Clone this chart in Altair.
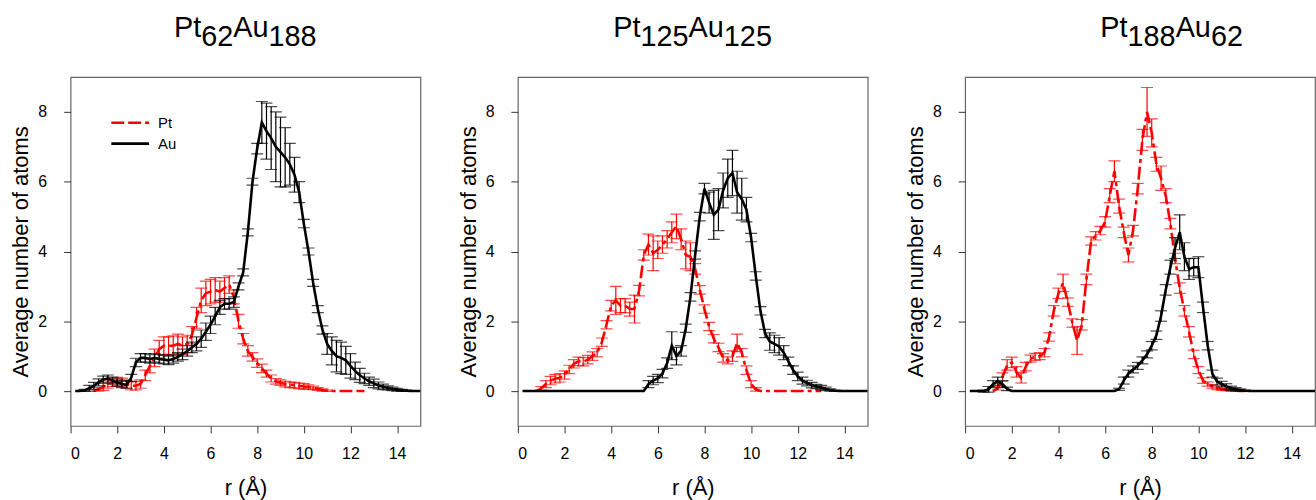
import altair as alt
import pandas as pd

# radial bins (Å)
R = [round(0.2 * k, 1) for k in range(1, 76)]
N = None

# ---------------- Pt62Au188 ----------------
P1_AU = [0, 0, 0.02, 0.08, 0.15, 0.25, 0.33, 0.36, 0.30, 0.24,
         0.20, 0.18, 0.38, 0.82, 0.95, 0.95, 0.92, 0.95, 0.92, 0.90,
         0.88, 0.92, 0.98, 1.05, 1.15, 1.25, 1.35, 1.50, 1.70, 1.90,
         2.15, 2.40, 2.50, 2.50, 2.55, 3.00, 3.40, 4.55, 6.00, 6.95,
         7.70, 7.45, 7.25, 7.00, 6.85, 6.70, 6.50, 6.20, 5.70, 4.80,
         4.00, 3.10, 2.35, 1.75, 1.35, 1.15, 1.00, 0.95, 0.88, 0.72,
         0.58, 0.45, 0.36, 0.28, 0.22, 0.16, 0.12, 0.09, 0.06, 0.04,
         0.02, 0.01, 0, 0, 0]
P1_AU_ERR = [0, 0, 0.03, 0.08, 0.1, 0.1, 0.1, 0.1, 0.1, 0.1,
             0.1, 0.1, 0.1, 0.12, 0.12, 0.12, 0.12, 0.12, 0.12, 0.12,
             0.12, 0.12, 0.12, 0.15, 0.15, 0.15, 0.2, 0.25, 0.25, 0.25,
             0.25, 0.2, 0.15, 0.15, 0.15, 0.1, 0.1, 0.1, 0.1, 0.15,
             0.6, 0.8, 0.9, 1.0, 1.0, 0.85, 0.6, 0.5, 0.3, 0.12,
             0.1, 0.1, 0.1, 0.12, 0.3, 0.4, 0.45, 0.45, 0.4, 0.35,
             0.25, 0.2, 0.15, 0.12, 0.12, 0.1, 0.08, 0.06, 0.05, 0.04,
             0.03, 0.02, 0, 0, 0]
P1_PT = [N, N, N, N, 0.0, 0.05, 0.12, 0.20, 0.25, 0.27,
         0.25, 0.20, 0.15, 0.15, 0.20, 0.45, 0.72, 0.95, 1.20, 1.30,
         1.30, 1.30, 1.35, 1.30, 1.35, 1.60, 2.10, 2.60, 2.80, 2.85,
         2.90, 2.85, 2.95, 3.05, 2.70, 2.00, 1.50, 1.15, 0.98, 0.80,
         0.65, 0.50, 0.36, 0.28, 0.24, 0.20, 0.18, 0.17, 0.15, 0.13,
         0.12, 0.09, 0.06, 0.03, 0.01, 0, 0, 0, 0, 0,
         0, 0, 0, N, N, N, N, N, N, N,
         N, N, N, N, N]
P1_PT_ERR = [N, N, N, N, 0, 0.05, 0.1, 0.12, 0.12, 0.12,
             0.12, 0.12, 0.12, 0.12, 0.12, 0.15, 0.2, 0.25, 0.25, 0.25,
             0.25, 0.28, 0.28, 0.25, 0.25, 0.25, 0.3, 0.35, 0.35, 0.35,
             0.35, 0.3, 0.3, 0.25, 0.2, 0.2, 0.15, 0.15, 0.12, 0.12,
             0.12, 0.1, 0.1, 0.08, 0.08, 0.08, 0.08, 0.08, 0.08, 0.08,
             0.06, 0.05, 0.04, 0.03, 0.02, 0, 0, 0, 0, 0,
             0, 0, 0, N, N, N, N, N, N, N,
             N, N, N, N, N]

# ---------------- Pt125Au125 ----------------
P2_AU = [0, 0, 0, 0, 0, 0, 0, 0, 0, 0,
         0, 0, 0, 0, 0, 0, 0, 0, 0, 0,
         0, 0, 0, 0, 0, 0, 0, 0.20, 0.30, 0.36,
         0.50, 0.80, 1.30, 1.00, 1.15, 1.80, 2.70, 3.90, 5.00, 5.80,
         5.40, 5.05, 5.20, 5.75, 6.10, 6.25, 5.70, 5.50, 5.20, 4.40,
         3.30, 2.30, 1.65, 1.42, 1.35, 1.28, 1.10, 0.85, 0.60, 0.42,
         0.30, 0.23, 0.17, 0.13, 0.10, 0.06, 0.03, 0.01, 0, 0,
         0, 0, 0, 0, 0]
P2_AU_ERR = [0, 0, 0, 0, 0, 0, 0, 0, 0, 0,
             0, 0, 0, 0, 0, 0, 0, 0, 0, 0,
             0, 0, 0, 0, 0, 0, 0, 0.1, 0.12, 0.12,
             0.12, 0.15, 0.4, 0.25, 0.15, 0.12, 0.12, 0.12, 0.12, 0.15,
             0.3, 0.7, 0.6, 0.5, 0.55, 0.65, 0.6, 0.6, 0.35, 0.12,
             0.12, 0.12, 0.12, 0.25, 0.25, 0.25, 0.2, 0.12, 0.12, 0.12,
             0.1, 0.08, 0.08, 0.06, 0.06, 0.05, 0.03, 0.02, 0, 0,
             0, 0, 0, 0, 0]
P2_PT = [N, N, N, 0.0, 0.08, 0.20, 0.30, 0.35, 0.38, 0.46,
         0.62, 0.78, 0.85, 0.84, 0.90, 1.00, 1.10, 1.40, 1.90, 2.45,
         2.60, 2.45, 2.45, 2.35, 2.35, 2.88, 3.90, 4.20, 3.95, 4.05,
         4.20, 4.35, 4.55, 4.72, 4.35, 3.90, 3.85, 3.50, 2.90, 2.35,
         1.85, 1.50, 1.25, 0.95, 0.88, 1.00, 1.38, 1.10, 0.60, 0.20,
         0.05, 0, 0, 0, 0, 0, 0, 0, 0, 0,
         0, 0, 0, 0, 0, N, N, N, N, N,
         N, N, N, N, N]
P2_PT_ERR = [N, N, N, 0, 0.05, 0.1, 0.12, 0.12, 0.12, 0.12,
             0.12, 0.12, 0.12, 0.12, 0.12, 0.12, 0.12, 0.12, 0.12, 0.15,
             0.4, 0.2, 0.2, 0.2, 0.4, 0.15, 0.15, 0.3, 0.5, 0.25,
             0.25, 0.25, 0.3, 0.35, 0.3, 0.4, 0.4, 0.15, 0.12, 0.12,
             0.12, 0.12, 0.12, 0.12, 0.1, 0.15, 0.25, 0.12, 0.12, 0.1,
             0.05, 0, 0, 0, 0, 0, 0, 0, 0, 0,
             0, 0, 0, 0, 0, N, N, N, N, N,
             N, N, N, N, N]

# ---------------- Pt188Au62 ----------------
P3_AU = [0, 0, 0, 0, 0.05, 0.20, 0.28, 0.20, 0.06, 0,
         0, 0, 0, 0, 0, 0, 0, 0, 0, 0,
         0, 0, 0, 0, 0, 0, 0, 0, 0, 0,
         0, 0, 0.05, 0.30, 0.50, 0.62, 0.72, 0.88, 1.05, 1.30,
         1.60, 2.15, 2.90, 3.55, 4.10, 4.55, 3.85, 3.50, 3.55, 3.55,
         2.40, 1.30, 0.50, 0.27, 0.20, 0.13, 0.08, 0.05, 0.03, 0.01,
         0, 0, 0, 0, 0, 0, 0, 0, 0, 0,
         0, 0, 0, 0, 0]
P3_AU_ERR = [0, 0, 0, 0.03, 0.08, 0.1, 0.12, 0.1, 0.05, 0,
             0, 0, 0, 0, 0, 0, 0, 0, 0, 0,
             0, 0, 0, 0, 0, 0, 0, 0, 0, 0,
             0, 0, 0.03, 0.1, 0.1, 0.1, 0.1, 0.1, 0.1, 0.12,
             0.12, 0.15, 0.15, 0.2, 0.3, 0.5, 0.4, 0.3, 0.25, 0.3,
             0.15, 0.12, 0.1, 0.1, 0.08, 0.08, 0.06, 0.05, 0.03, 0.02,
             0, 0, 0, 0, 0, 0, 0, 0, 0, 0,
             0, 0, 0, 0, 0]
P3_PT = [N, N, N, N, N, 0.0, 0.08, 0.40, 0.75, 0.82,
         0.55, 0.38, 0.70, 0.93, 0.98, 1.00, 1.10, 1.55, 2.30, 2.80,
         3.10, 2.55, 1.95, 1.45, 1.90, 3.20, 4.30, 4.45, 4.60, 4.85,
         5.60, 6.30, 5.30, 4.55, 3.90, 4.60, 5.80, 7.20, 8.00, 7.40,
         6.50, 6.10, 5.60, 4.80, 3.80, 2.95, 2.30, 1.70, 1.05, 0.60,
         0.30, 0.20, 0.13, 0.08, 0.05, 0.03, 0.02, 0.01, 0, 0,
         N, N, N, N, N, N, N, N, N, N,
         N, N, N, N, N]
P3_PT_ERR = [N, N, N, N, N, 0, 0.05, 0.12, 0.15, 0.15,
             0.15, 0.15, 0.12, 0.1, 0.1, 0.1, 0.12, 0.12, 0.15, 0.15,
             0.25, 0.12, 0.12, 0.4, 0.15, 0.15, 0.12, 0.12, 0.12, 0.15,
             0.2, 0.3, 0.2, 0.15, 0.2, 0.15, 0.15, 0.3, 0.7, 0.4,
             0.2, 0.35, 0.2, 0.15, 0.15, 0.15, 0.15, 0.15, 0.12, 0.1,
             0.08, 0.06, 0.05, 0.04, 0.03, 0.02, 0.02, 0.01, 0, 0,
             N, N, N, N, N, N, N, N, N, N,
             N, N, N, N, N]

# titles: (text, is_subscript)
TITLES = [
    [("Pt", False), ("62", True), ("Au", False), ("188", True)],
    [("Pt", False), ("125", True), ("Au", False), ("125", True)],
    [("Pt", False), ("188", True), ("Au", False), ("62", True)],
]
TITLE_X = [104, 96, 136]
SERIES = [
    ((P1_PT, P1_PT_ERR), (P1_AU, P1_AU_ERR)),
    ((P2_PT, P2_PT_ERR), (P2_AU, P2_AU_ERR)),
    ((P3_PT, P3_PT_ERR), (P3_AU, P3_AU_ERR)),
]
X_TICKS = [0, 2, 4, 6, 8, 10, 12, 14]
Y_TICKS = [0, 2, 4, 6, 8]

FONT = "Liberation Sans"
W, H = 352, 351
TFS = 29
ADV = {"P": 0.667, "t": 0.278, "A": 0.667, "u": 0.556}

x_scale = alt.Scale(domain=[0, 15], nice=False, zero=False)
y_scale = alt.Scale(domain=[-1, 9], nice=False, zero=False)
x_axis = alt.Axis(values=X_TICKS, title="r (Å)", format="d")
y_axis = alt.Axis(values=Y_TICKS, title="Average number of atoms", format="d")


def frame(vals, errs, name):
    rows = []
    for r, v, e in zip(R, vals, errs):
        if v is None:
            continue
        rows.append({"r": r, "v": v, "e": e, "lo": v - e, "hi": v + e, "s": name})
    return pd.DataFrame(rows)


def series_layers(df, color, dash):
    base = alt.Chart(df)
    X = alt.X("r:Q", scale=x_scale, axis=x_axis)
    line_kw = dict(color=color, strokeWidth=2.6, clip=True)
    if dash:
        line_kw["strokeDash"] = dash
    line = base.mark_line(**line_kw).encode(
        x=X, y=alt.Y("v:Q", scale=y_scale, axis=y_axis))
    eb = base.transform_filter("datum.e > 0")
    rule = eb.mark_rule(color=color, strokeWidth=1.2, clip=True).encode(
        x=X, y=alt.Y("lo:Q", scale=y_scale, axis=y_axis), y2="hi:Q")
    cap_lo = eb.mark_tick(color=color, size=12, thickness=1.2,
                          orient="horizontal", clip=True).encode(
        x=X, y=alt.Y("lo:Q", scale=y_scale, axis=y_axis))
    cap_hi = eb.mark_tick(color=color, size=12, thickness=1.2,
                          orient="horizontal", clip=True).encode(
        x=X, y=alt.Y("hi:Q", scale=y_scale, axis=y_axis))
    return [line, rule, cap_lo, cap_hi]


one = pd.DataFrame({"a": [0]})


def title_layers(pieces, x0):
    layers = []
    x = x0
    for txt, sub in pieces:
        layers.append(
            alt.Chart(one).mark_text(
                text=txt, font=FONT, fontSize=TFS, align="left",
                baseline="alphabetic", color="black").encode(
                x=alt.value(x), y=alt.value(-31 if sub else -40.5)))
        x += sum(ADV.get(c, 0.556) for c in txt) * TFS
    return layers


def legend_layers():
    return [
        alt.Chart(one).mark_rule(color="red", strokeWidth=2.6,
                                 strokeDash=[13, 4, 13, 4, 4, 4]).encode(
            x=alt.value(41), x2=alt.value(79), y=alt.value(46)),
        alt.Chart(one).mark_rule(color="black", strokeWidth=2.6).encode(
            x=alt.value(41), x2=alt.value(79), y=alt.value(67)),
        alt.Chart(one).mark_text(text="Pt", font=FONT, fontSize=15, align="left",
                                 baseline="middle").encode(
            x=alt.value(88), y=alt.value(46)),
        alt.Chart(one).mark_text(text="Au", font=FONT, fontSize=15, align="left",
                                 baseline="middle").encode(
            x=alt.value(88), y=alt.value(67)),
    ]


panels = []
for i, ((pt, pte), (au, aue)) in enumerate(SERIES):
    layers = []
    layers += series_layers(frame(pt, pte, "Pt"), "red", [13, 4, 13, 4, 4, 4])
    layers += series_layers(frame(au, aue, "Au"), "black", None)
    layers += title_layers(TITLES[i], TITLE_X[i])
    if i == 0:
        layers += legend_layers()
    panels.append(alt.layer(*layers).properties(width=W, height=H))

chart = alt.hconcat(*panels, spacing=35).configure(
    padding={"left": 9, "top": 11, "right": 0, "bottom": 0},
    font=FONT,
).configure_view(
    stroke="#666", strokeWidth=1.2
).configure_axis(
    grid=False, domain=False,
    tickColor="#333", tickSize=7, tickWidth=1,
    labelFont=FONT, labelFontSize=16, labelColor="black", labelPadding=8,
    titleFont=FONT, titleFontSize=22, titleFontWeight="normal", titleColor="black",
).configure_axisY(
    titlePadding=5, labelPadding=17
).configure_axisX(
    titlePadding=16, labelPadding=13
)

chart.save("out.html", embed_options={"renderer": "svg", "actions": False})
